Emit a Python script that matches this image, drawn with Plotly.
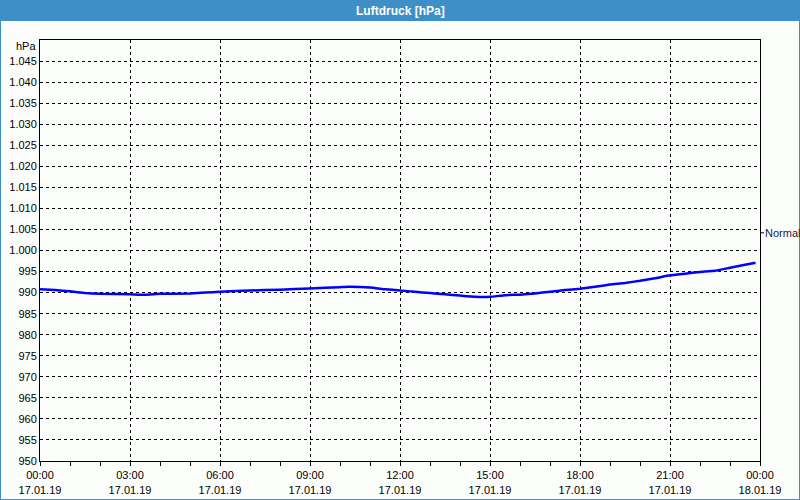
import plotly.graph_objects as go

# Data (hours after 17.01.19 00:00, pressure in hPa)
hours = [0, 0.5, 1.0, 1.5, 2, 3, 3.5, 4, 5, 5.5, 6, 7, 8, 9, 10, 10.3, 11, 11.5,
         12, 12.5, 13, 13.5, 14, 14.5, 15, 15.5, 16, 16.5, 17, 17.5, 18, 18.5,
         19, 19.5, 20, 20.5, 21, 21.5, 22, 22.5, 23, 23.5, 23.85]
pressure = [990.8, 990.6, 990.3, 989.9, 989.7, 989.6, 989.5, 989.7, 989.8, 990.0,
            990.2, 990.5, 990.7, 991.0, 991.3, 991.4, 991.2, 990.8, 990.5, 990.2,
            989.9, 989.6, 989.3, 989.0, 989.0, 989.4, 989.5, 989.8, 990.2, 990.6,
            990.9, 991.4, 991.9, 992.3, 992.8, 993.4, 994.1, 994.5, 994.9, 995.2,
            995.9, 996.6, 997.1]
normal_value = 1004.2
y_ticks = list(range(950, 1050, 5))
x_tick_hours = [0, 3, 6, 9, 12, 15, 18, 21, 24]
x_tick_labels = ["00:00<br>17.01.19", "03:00<br>17.01.19", "06:00<br>17.01.19",
                 "09:00<br>17.01.19", "12:00<br>17.01.19", "15:00<br>17.01.19",
                 "18:00<br>17.01.19", "21:00<br>17.01.19", "00:00<br>18.01.19"]
title_text = "Luftdruck [hPa]"

FONT = "Liberation Sans"
BLUE_BAR = "#3c90c7"
BG = "#fcfefc"

W, H = 800, 500
L, R, T, B = 40, 40, 40, 39
PW, PH = W - L - R, H - T - B


def px(x):
    return (x - L) / PW


def py(y):
    return 1 + (T - y) / PH


fig = go.Figure()
fig.add_trace(go.Scatter(x=hours, y=pressure, mode="lines",
                         line=dict(color="#0000ff", width=2.5, shape="spline", smoothing=0.3),
                         hoverinfo="skip", showlegend=False))

fig.update_layout(
    width=W, height=H, autosize=False,
    margin=dict(l=L, r=R, t=T, b=B, pad=0, autoexpand=False),
    paper_bgcolor=BG, plot_bgcolor=BG,
    separators=",.",
    font=dict(family=FONT, size=11, color="#000000"),
    showlegend=False,
)
fig.update_xaxes(
    range=[0, 24], tickvals=x_tick_hours, ticktext=x_tick_labels,
    showline=True, linecolor="black", linewidth=1, mirror=True,
    showgrid=True, gridcolor="black", gridwidth=1, griddash="3px,3px",
    ticks="outside", ticklen=4, tickcolor="black", tickwidth=1,
    minor=dict(dtick=1, ticks="outside", ticklen=4, tickcolor="black", showgrid=False),
    zeroline=False, fixedrange=True, automargin=False,
    tickfont=dict(family=FONT, size=11, color="black"),
)
fig.update_yaxes(
    range=[950, 1050], tickvals=y_ticks, tickformat=",d", separatethousands=True,
    showline=True, linecolor="black", linewidth=1, mirror=True,
    showgrid=True, gridcolor="black", gridwidth=1, griddash="3px,3px",
    ticks="", zeroline=False, fixedrange=True, automargin=False,
    tickfont=dict(family=FONT, size=11, color="black"),
)

shapes = [
    dict(type="rect", xref="paper", yref="paper", x0=px(0), x1=px(W), y0=py(21), y1=py(0),
         fillcolor=BLUE_BAR, line=dict(width=0), layer="above"),
    dict(type="line", xref="paper", yref="paper", x0=px(0.5), x1=px(0.5), y0=py(0), y1=py(H),
         line=dict(color=BLUE_BAR, width=1)),
    dict(type="line", xref="paper", yref="paper", x0=px(W - 0.5), x1=px(W - 0.5), y0=py(0), y1=py(H),
         line=dict(color=BLUE_BAR, width=1)),
    dict(type="line", xref="paper", yref="paper", x0=px(0), x1=px(W), y0=py(H - 0.5), y1=py(H - 0.5),
         line=dict(color=BLUE_BAR, width=1)),
    dict(type="line", xref="paper", yref="y", x0=1, x1=px(L + PW + 4), y0=normal_value, y1=normal_value,
         line=dict(color="black", width=1)),
]
fig.update_layout(shapes=shapes)

fig.add_annotation(x=0.5, y=py(10.5), xref="paper", yref="paper", text="<b>" + title_text + "</b>",
                   showarrow=False, xanchor="center", yanchor="middle",
                   font=dict(family=FONT, size=12, color="white"))
fig.add_annotation(x=px(38), y=py(46), xref="paper", yref="paper", text="hPa",
                   showarrow=False, xanchor="right", yanchor="middle",
                   font=dict(family=FONT, size=11, color="black"))
fig.add_annotation(x=px(L + PW + 3), y=normal_value, xref="paper", yref="y", text="Normal",
                   showarrow=False, xanchor="left", yanchor="middle",
                   font=dict(family=FONT, size=11, color="#1a1a4a"))

fig.write_html("out.html", config={"displayModeBar": False},
               post_script="document.body.style.margin='0px';document.body.style.overflow='hidden';")
